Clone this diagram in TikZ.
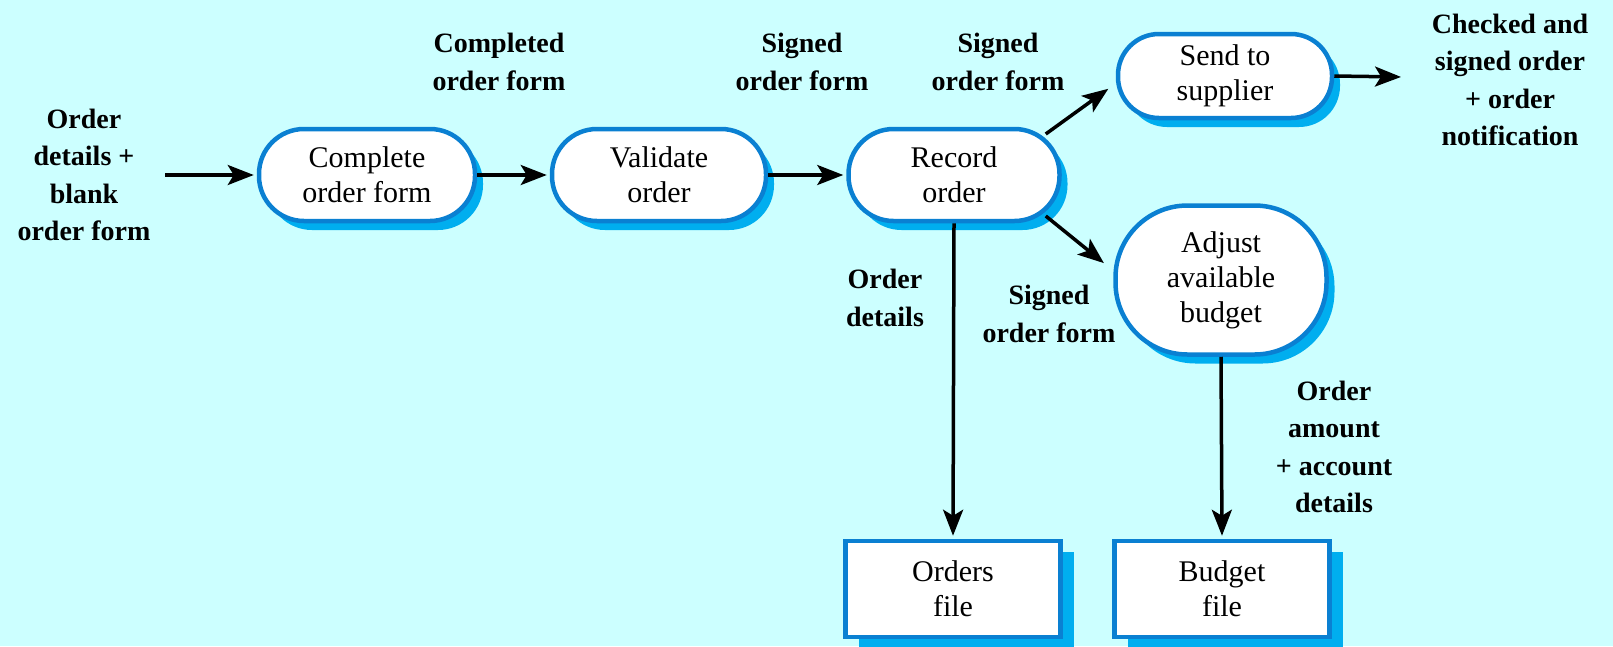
\documentclass[tikz,border=0pt]{standalone}
\usepackage{fontspec}
\setmainfont{Liberation Serif}
\usetikzlibrary{arrows.meta,shadows,calc}
\definecolor{bgc}{RGB}{204,255,255}
\definecolor{borderc}{RGB}{10,128,210}
\definecolor{shadowc}{RGB}{0,174,239}
\tikzset{
  proc/.style={draw=borderc, line width=4.5pt, fill=white, align=center,
    font=\fontsize{30}{35}\selectfont, inner sep=0pt,
    drop shadow={shadow xshift=8pt, shadow yshift=-9pt, fill=shadowc, draw=none, opacity=1}},
  filebox/.style={draw=borderc, line width=4.5pt, fill=white, align=center,
    font=\fontsize{30}{35}\selectfont, inner sep=0pt,
    minimum width=215pt, minimum height=96pt,
    drop shadow={shadow xshift=13pt, shadow yshift=-11pt, fill=shadowc, draw=none, opacity=1}},
  lbl/.style={align=center, font=\bfseries\fontsize{28}{37.5}\selectfont, inner sep=0pt},
  flow/.style={line width=3.5pt, -{Stealth[length=26pt,width=20pt,inset=6pt]}, shorten >=3pt}
}
\begin{document}
\begin{tikzpicture}[x=1pt,y=-1pt]
\useasboundingbox (0,0) rectangle (1613,646);
\fill[bgc] (0,0) rectangle (1613,646);

\node[proc, minimum width=216pt, minimum height=92pt, rounded corners=45pt] (n1) at (367,175) {Complete\\order form};
\node[proc, minimum width=214pt, minimum height=92pt, rounded corners=45pt] (n2) at (659,175) {Validate\\order};
\node[proc, minimum width=211pt, minimum height=92pt, rounded corners=45pt] (n3) at (954,175) {Record\\order};
\node[proc, minimum width=214pt, minimum height=84pt, rounded corners=41pt] (n4) at (1225,76) {Send to\\supplier};
\node[proc, minimum width=211pt, minimum height=149pt, rounded corners=72pt] (n5) at (1221,280) {Adjust\\available\\budget};

\node[filebox] (f1) at (953,589) {Orders\\file};
\node[filebox] (f2) at (1222,589) {Budget\\file};

\node[lbl] (l0) at (84,175) {Order\\details +\\blank\\order form};
\node[lbl] (l1) at (499,62) {Completed\\order form};
\node[lbl] (l2) at (802,62) {Signed\\order form};
\node[lbl] (l3) at (998,62) {Signed\\order form};
\node[lbl] (l4) at (1510,80) {Checked and\\signed order\\+ order\\notification};
\node[lbl] (l5) at (885,298) {Order\\details};
\node[lbl] (l6) at (1049,314) {Signed\\order form};
\node[lbl] (l7) at (1334,447) {Order\\amount\\+ account\\details};

\coordinate (cin) at (165,175);
\coordinate (cout) at (1404,77);

\draw[flow] (cin) -- (n1.west);
\draw[flow] (n1.east) -- (n2.west);
\draw[flow] (n2.east) -- (n3.west);
\draw[flow] ($(n3.east)+(-16,-41)$) -- ($(n4.west)+(-5,11)$);
\draw[flow] ($(n3.east)+(-16,41)$) -- ($(n5.west)+(-7,-15)$);
\draw[flow] (n4.east) -- (cout);
\draw[flow] (n3.south) -- (f1.north);
\draw[flow] (n5.south) -- (f2.north);
\end{tikzpicture}
\end{document}
